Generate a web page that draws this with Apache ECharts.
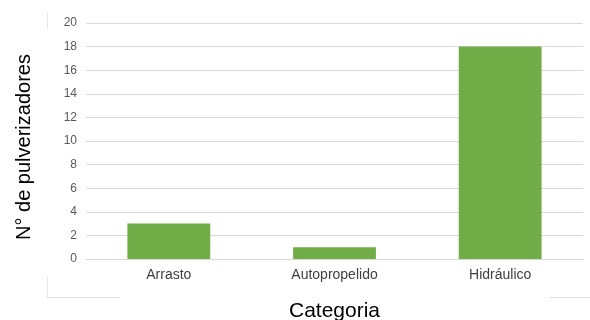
<!DOCTYPE html>
<html>
<head>
<meta charset="utf-8">
<script src="https://cdn.jsdelivr.net/npm/echarts@6/dist/echarts.min.js"></script>
<style>
  html, body { margin: 0; padding: 0; background: #fff; }
  #main { width: 590px; height: 320px; }
</style>
</head>
<body>
<div id="main"></div>
<script>
var categories = ['Arrasto', 'Autopropelido', 'Hidráulico'];
var counts = [3, 1, 18];

var myChart = echarts.init(document.getElementById('main'));

var option = {
    animation: false,
    grid: { left: 86, right: 7, top: 23, bottom: 61, outerBoundsMode: 'none' },
    xAxis: {
        type: 'category',
        data: categories,
        name: 'Categoria',
        nameLocation: 'middle',
        nameGap: 42,
        nameTextStyle: { fontFamily: 'Liberation Sans', fontSize: 21, color: '#000' },
        axisLine: { show: true, lineStyle: { color: '#d9d9d9' } },
        axisTick: { show: false },
        axisLabel: { fontFamily: 'Liberation Sans', fontSize: 14, color: '#404040', margin: 9 }
    },
    yAxis: {
        type: 'value',
        min: 0,
        max: 20,
        interval: 2,
        name: 'N° de pulverizadores',
        nameLocation: 'middle',
        nameGap: 52,
        nameTextStyle: { fontFamily: 'Liberation Sans', fontSize: 20, color: '#000', padding: [0, 12, 0, 0] },
        axisLine: { show: false },
        axisTick: { show: false },
        axisLabel: { fontFamily: 'Liberation Sans', fontSize: 12, color: '#595959', margin: 9 },
        splitLine: { lineStyle: { color: '#d9d9d9' } }
    },
    // faint leftovers of the chart-area border
    graphic: [
        { type: 'line', shape: { x1: 47.5, y1: 13, x2: 47.5, y2: 28 }, style: { stroke: '#e3e3e3', lineWidth: 1 } },
        { type: 'line', shape: { x1: 47.5, y1: 277, x2: 47.5, y2: 297 }, style: { stroke: '#e3e3e3', lineWidth: 1 } },
        { type: 'line', shape: { x1: 47, y1: 297.5, x2: 120, y2: 297.5 }, style: { stroke: '#e3e3e3', lineWidth: 1 } },
        { type: 'line', shape: { x1: 549, y1: 297.5, x2: 590, y2: 297.5 }, style: { stroke: '#e3e3e3', lineWidth: 1 } }
    ],
    series: [
        {
            type: 'bar',
            data: counts,
            barCategoryGap: '50%',
            itemStyle: { color: '#70ad47' }
        }
    ]
};

myChart.setOption(option);
</script>
</body>
</html>
